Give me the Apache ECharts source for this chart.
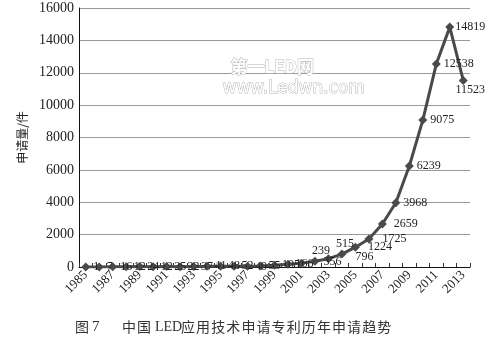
<!DOCTYPE html>
<html>
<head>
<meta charset="utf-8">
<script src="https://cdn.jsdelivr.net/npm/echarts@6/dist/echarts.min.js"></script>
<style>
  html, body { margin: 0; padding: 0; background: #fff; }
  #chart { width: 493px; height: 340px; }
</style>
</head>
<body>
<div id="chart"></div>
<script>
// Yearly patent application counts for LED application technology in China
const years = ['1985','1986','1987','1988','1989','1990','1991','1992','1993','1994',
  '1995','1996','1997','1998','1999','2000','2001','2002','2003','2004',
  '2005','2006','2007','2008','2009','2010','2011','2012','2013'];
const applications = [1, 7, 16, 12, 24, 12, 25, 22, 37, 41,
  48, 52, 40, 55, 105, 166, 239, 356, 515, 796,
  1224, 1725, 2659, 3968, 6239, 9075, 12538, 14819, 11523];
const yTicks = [0, 2000, 4000, 6000, 8000, 10000, 12000, 14000, 16000];

const serif = '"Liberation Serif", "DejaVu Serif", serif';
const cjk = '"Noto Sans CJK SC", sans-serif';

// label nudges for crowded points, keyed by year
const labelNudge = {
  '2001': [3, -12],
  '2002': [1, 1],
  '2003': [0, -15],
  '2004': [6, 3],
  '2005': [5, 0],
  '2006': [6, 0],
  '2007': [4, 0],
  '2012': [-2, 0],
  '2013': [7, -4]
};

const chart = echarts.init(document.getElementById('chart'));

// caption with a little extra spacing between the characters
const captionParts = [
  { text: '图', x: 75, font: '14px ' + cjk },
  { text: '7', x: 92, font: '15px ' + serif },
  { text: '中', x: 122, font: '14px ' + cjk },
  { text: '国', x: 137, font: '14px ' + cjk },
  { text: 'LED', x: 155, font: '14px ' + serif }
];
const captionTail = '应用技术申请专利历年申请趋势';
for (let i = 0; i < captionTail.length; i++) {
  captionParts.push({ text: captionTail[i], x: 181 + i * 15.1, font: '14px ' + cjk });
}
const captionGraphics = captionParts.map(p => ({
  type: 'text', x: p.x, y: 327,
  style: { text: p.text, font: p.font, fill: '#333', verticalAlign: 'middle' }
}));

chart.setOption({
  animation: false,
  grid: { left: 79, right: 23, top: 8, bottom: 73 },
  xAxis: {
    type: 'category',
    data: years,
    boundaryGap: true,
    axisLine: { lineStyle: { color: '#111', width: 1 } },
    axisTick: { show: true, inside: true, length: 4, interval: 0, lineStyle: { color: '#333' } },
    axisLabel: {
      interval: 1, rotate: 45, fontFamily: serif, fontSize: 13, color: '#222', margin: 6
    },
    splitLine: { show: false }
  },
  yAxis: {
    type: 'value',
    min: yTicks[0],
    max: yTicks[yTicks.length - 1],
    interval: 2000,
    name: '申请量/件',
    nameLocation: 'middle',
    nameRotate: 90,
    nameGap: 48,
    nameTextStyle: { fontFamily: cjk, fontSize: 12, color: '#222' },
    axisLine: { show: true, lineStyle: { color: '#111', width: 1 } },
    axisTick: { show: false },
    axisLabel: { fontFamily: serif, fontSize: 14, color: '#222', margin: 5,
      formatter: v => String(v) },
    splitLine: { lineStyle: { color: '#9a9a9a', width: 1 } }
  },
  series: [{
    type: 'line',
    data: applications.map((v, i) => ({
      value: v,
      label: { position: years[i] === '2013' ? 'bottom' : 'right' }
    })),
    symbol: 'diamond',
    symbolSize: 9,
    showAllSymbol: true,
    lineStyle: { color: '#4a4a4a', width: 3 },
    itemStyle: { color: '#4a4a4a' },
    label: {
      show: true, fontFamily: serif, fontSize: 12, color: '#222', distance: 3
    },
    labelLayout: function (params) {
      const n = labelNudge[years[params.dataIndex]] || [0, 0];
      return { hideOverlap: false, dx: n[0], dy: n[1] };
    },
    z: 3
  }],
  graphic: [
    {
      type: 'text', left: 230, top: 58, z: 10,
      style: { text: '第一LED网', font: 'bold 17px "Noto Sans CJK SC", sans-serif',
        fill: '#fff', stroke: '#b5b5b5', lineWidth: 1 }
    },
    {
      type: 'text', left: 222, top: 80, z: 10,
      style: { text: 'www.Ledwn.com', font: '17px "DejaVu Sans", sans-serif',
        fill: '#fff', stroke: '#b5b5b5', lineWidth: 1 }
    }
  ].concat(captionGraphics)
});
</script>
</body>
</html>
